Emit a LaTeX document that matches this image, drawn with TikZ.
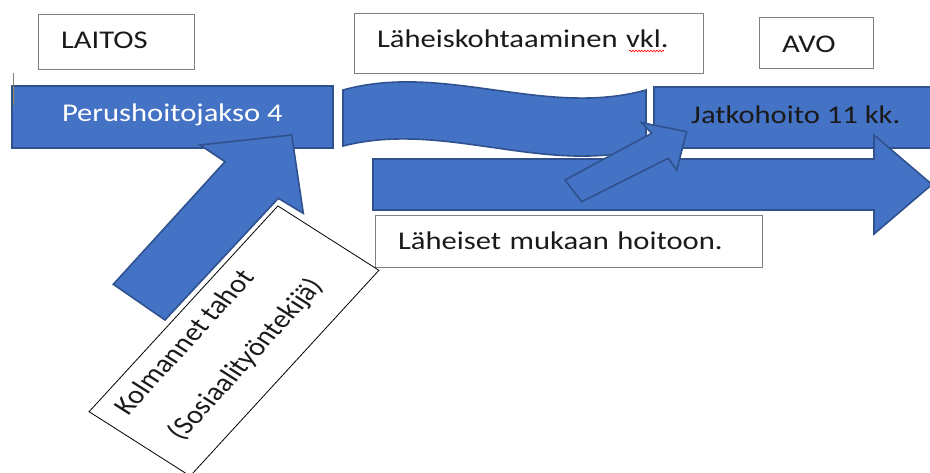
\documentclass[tikz,border=0pt]{standalone}
\usepackage{fontspec}
\setmainfont{Carlito}[FakeStretch=1.2]
\newfontfamily\plainfont{Carlito}
\usetikzlibrary{decorations.pathmorphing}
\definecolor{fillblue}{HTML}{4472C4}
\definecolor{edgeblue}{HTML}{2F528F}
\definecolor{boxgray}{HTML}{808080}
\definecolor{darktext}{HTML}{1A1A1A}
\definecolor{markolive}{HTML}{8C8A5A}
\begin{document}
\begin{tikzpicture}[x=1pt,y=-1pt,
  lbl/.style={draw=boxgray, line width=1pt, fill=white, anchor=north west, align=left,
    inner xsep=22.5pt, inner ysep=0pt, text depth=0pt, text=darktext,
    font=\fontsize{25.5}{30}\selectfont},
  band/.style={draw=edgeblue, line width=1.6pt, fill=fillblue, line join=miter},
  bandtext/.style={band, anchor=north west, inner sep=0pt, text depth=0pt,
    font=\fontsize{25.5}{30}\selectfont}]
\useasboundingbox (0,0) rectangle (930,473);
\clip (0,0) rectangle (930,473);

% top labels
\node[lbl, text width=111pt, minimum height=55pt, text height=13pt] (laitos) at (38,14) {LAITOS};
\node[lbl, text width=304pt, minimum height=60pt, text height=8pt] (lahkoht) at (354,13) {Läheiskohtaaminen vkl.};
\node[lbl, text width=69pt, minimum height=51pt, text height=18.4pt] (avo) at (759,17) {AVO};
\draw[red, line width=0.6pt, decorate, decoration={snake, segment length=3pt, amplitude=0.8pt}] (629,51) -- (664,51);

% Perushoitojakso
\node[bandtext, text=white, minimum width=321pt, minimum height=62pt, text height=9.4pt] (perus) at (11,85) {Perushoitojakso 4};

% small mark
\draw[gray, line width=0.8pt] (13,73) -- (13,86);
\draw[markolive, line width=0.8pt] (13,86) -- (13,105);

% wave
\path[band] (343,90) .. controls (444,62) and (545,118) .. (646,90)
  -- (646,148) .. controls (545,176) and (444,120) .. (343,146) -- cycle;

% Jatkohoito
\node[bandtext, text=darktext, minimum width=284pt, minimum height=61pt, text height=12.4pt] (jatko) at (653,86) {Jatkohoito 11 kk.};

% long arrow
\path[band] (373,159) -- (874,159) -- (874,135) -- (932,184.5) -- (874,234) -- (874,210) -- (373,210) -- cycle;

% small arrow
\path[band] (565,180) -- (651.7,133.3) -- (641.7,122.7) -- (686.7,131.7) -- (676.7,170) -- (668.3,158.3) -- (581.7,201.7) -- cycle;

% bottom label
\node[lbl, text width=342pt, minimum height=52pt, text height=16pt] (lahmuk) at (375,215) {Läheiset mukaan hoitoon.};

% big diagonal arrow
\path[band] (113.3,284.3) -- (225,161.7) -- (200,145) -- (291.7,135) -- (303.3,213.3) -- (278.3,198.3) -- (165,320) -- cycle;

% rotated box
\begin{scope}[shift={(234,341)}, xscale=1.2, rotate=52.6, every node/.style={transform shape}]
  \node[draw=black, line width=0.8pt, fill=white, minimum width=259pt, minimum height=106pt, inner sep=0pt] (kolm) at (0,0) {};
  \node[anchor=base west, inner sep=0pt, text=darktext, font=\plainfont\fontsize{25.5}{30}\selectfont] (kolmA) at (-113.5,-24) {Kolmannet tahot};
  \node[anchor=base west, inner sep=0pt, text=darktext, font=\plainfont\fontsize{25.5}{30}\selectfont] (kolmB) at (-106.5,26.6) {(Sosiaalityöntekijä)};
\end{scope}
\end{tikzpicture}
\end{document}
